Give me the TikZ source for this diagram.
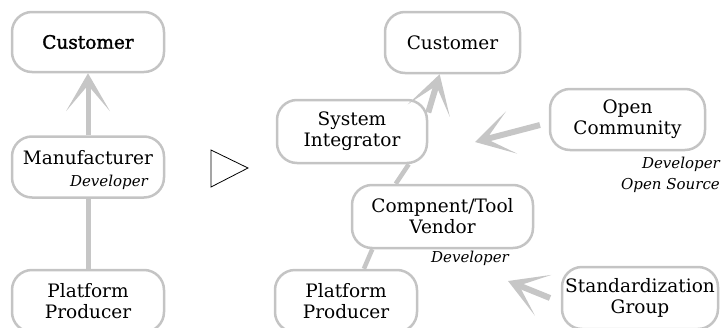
\documentclass[tikz,border=0pt]{standalone}
\usepackage{fontspec}
\setmainfont{DejaVu Serif}
\newfontfamily\boldishfont{DejaVu Serif}[FakeBold=1.6]
\usetikzlibrary{calc}
\definecolor{boxgray}{HTML}{C4C4C4}
\definecolor{arrgray}{HTML}{C6C6C6}
\tikzset{
  box/.style={draw=boxgray, line width=2.5pt, rounded corners=20pt, align=center,
    font=\fontsize{18.5}{21}\selectfont, inner sep=0pt},
  boxtext/.style={font=\fontsize{18.5}{21}\selectfont, inner sep=0pt, align=center},
  devlabel/.style={font=\fontsize{15}{21}\selectfont\itshape, inner sep=0pt, align=right},
  conn/.style={draw=arrgray, line width=5pt},
  shaft/.style={conn, shorten >=12pt},
}
% filled barbed arrowhead: #1 = tail point, #2 = tip point
\newcommand\barbhead[2]{%
  \fill[arrgray] (#2) -- ($(#2)!38pt!(#1)!22pt!90:(#2)$) -- ($(#2)!12pt!(#1)$)
    -- ($(#2)!38pt!(#1)!22pt!-90:(#2)$) -- cycle;}
\begin{document}
\begin{tikzpicture}[x=1pt,y=-1pt]
\useasboundingbox (0,0) rectangle (721,327);

% left column
\node[box, minimum width=152pt, minimum height=60pt, font=\fontsize{18.5}{21}\boldishfont] (cust1) at (88,42) {Customer};
\node[box, minimum width=152pt, minimum height=61pt] (manu) at (88,167) {};
\node[boxtext] (manut) at (88,158) {Manufacturer};
\node[devlabel, anchor=east] (manud) at (148,182) {Developer};
\node[box, minimum width=152pt, minimum height=62pt] (plat1) at (88,301) {Platform\\Producer};

\draw[shaft] (manu.north) -- (cust1.south);
\barbhead{manu.north}{cust1.south}
\draw[conn] (plat1.north) -- (manu.south);

% transition triangle
\draw[line width=0.8pt] (211,150) -- (211,187) -- (248,168) -- cycle;

% right part
\node[box, minimum width=135pt, minimum height=61pt] (cust2) at (452.5,42.5) {Customer};
\node[box, minimum width=150pt, minimum height=63pt] (si) at (352,131.5) {System\\Integrator};
\node[box, minimum width=181pt, minimum height=63pt] (vend) at (442.5,216.5) {Compnent/Tool\\Vendor};
\node[devlabel] (venddev) at (470,258) {Developer};
\node[box, minimum width=142pt, minimum height=62pt] (plat2) at (346,301) {Platform\\Producer};
\node[box, minimum width=155pt, minimum height=61pt] (oc) at (627.5,119.5) {Open\\Community};
\node[devlabel, anchor=north east] (ocdev) at (720,157) {Developer\\Open Source};
\node[box, minimum width=156pt, minimum height=62pt] (sg) at (640,298) {Standardization\\Group};

\draw[shaft, line width=6pt] (si.14) -- (cust2.-112);
\barbhead{si.14}{cust2.-112}
\draw[conn, line width=4.5pt] (vend.145) -- (si.-30);
\draw[conn, line width=4.5pt] (plat2.61) -- (vend.-155);

\coordinate (ocA) at (540,125);
\coordinate (ocB) at (475,142);
\draw[shaft, line width=6pt] (ocA) -- (ocB);
\barbhead{ocA}{ocB}

\coordinate (sgA) at (550,298);
\coordinate (sgB) at (508,281);
\draw[shaft, line width=6pt] (sgA) -- (sgB);
\barbhead{sgA}{sgB}

\end{tikzpicture}
\end{document}
